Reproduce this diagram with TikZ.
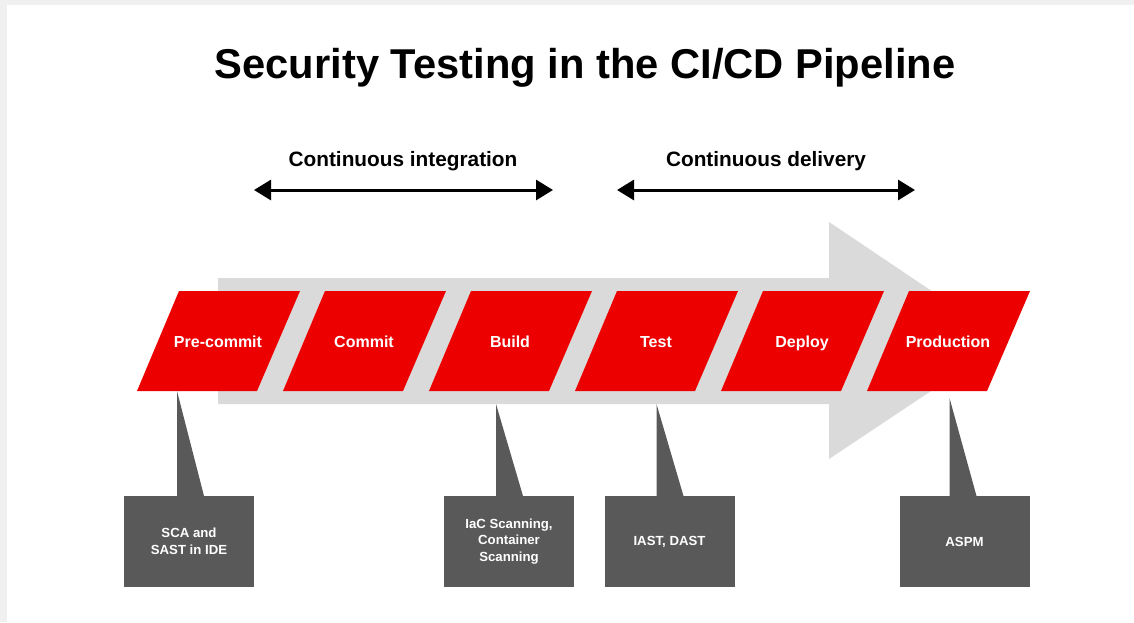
\documentclass[tikz,border=0pt]{standalone}
\usepackage{fontspec}
\setmainfont{Liberation Sans}
\usetikzlibrary{arrows.meta,calc}

\definecolor{stagered}{RGB}{236,0,0}
\definecolor{flowgray}{RGB}{218,218,218}
\definecolor{findgray}{RGB}{89,89,89}
\definecolor{framegray}{RGB}{240,240,240}

\tikzset{
  stagetext/.style={text=white, font=\bfseries\fontsize{16}{19}\selectfont, anchor=base},
  phase/.style={font=\bfseries\fontsize{20.8}{25}\selectfont, anchor=base},
  finding/.style={fill=findgray, text=white, minimum width=130, minimum height=91,
    inner sep=0pt, outer sep=0pt, align=center, font=\bfseries\fontsize{13.2}{16.5}\selectfont},
  span/.style={line width=3pt, {Triangle[length=17pt,width=20pt]}-{Triangle[length=17pt,width=20pt]}}
}

\begin{document}
\begin{tikzpicture}[x=1pt, y=-1pt]
    \useasboundingbox (0,0) rectangle (1134,622);
    \fill[framegray] (0,0) rectangle (1134,622);
    \fill[white] (7,5) rectangle (1134,622);

    % title
    \node[font=\bfseries\fontsize{41.7}{50}\selectfont, anchor=base] (title) at (585,78) {Security Testing in the CI/CD Pipeline};

    % phases
    \node[phase] (ci) at (403,166) {Continuous integration};
    \node[phase] (cd) at (766,166) {Continuous delivery};
    \coordinate (ci-l) at (254,190);
    \coordinate (ci-r) at (553,190);
    \coordinate (cd-l) at (617,190);
    \coordinate (cd-r) at (915,190);
    \draw[span] (ci-l) -- (ci-r);
    \draw[span] (cd-l) -- (cd-r);

    % big flow arrow
    \fill[flowgray] (218,278) -- (829,278) -- (829,222) -- (1006,341) -- (829,459) -- (829,404) -- (218,404) -- cycle;

    % stages
    \foreach \name/\label [count=\i from 0] in {precommit/Pre-commit, commit/Commit, build/Build, test/Test, deploy/Deploy, production/Production} {
        \fill[stagered] ({137+146*\i},391) -- ++(120,0) -- ++(43,-100) -- ++(-121,0) -- cycle;
        \node[stagetext] (\name) at ({218+146*\i},347) {\label};
    }

    % findings
    \node[finding] (sca) at (189,541.5) {SCA and\\SAST in IDE};
    \node[finding] (iac) at (509,541.5) {IaC Scanning,\\Container\\Scanning};
    \node[finding] (iast) at (669.5,541.5) {IAST, DAST};
    \node[finding] (aspm) at (964.5,541.5) {ASPM};
    \foreach \tgt/\dx/\tip in {sca/53/105, iac/52/92, iast/52/92, aspm/50/98}
        \fill[findgray] ($(\tgt.north west)+(\dx,0)$) -- ++(0,-\tip) -- ($(\tgt.north west)+(\dx+27,0)$) -- cycle;
\end{tikzpicture}
\end{document}
